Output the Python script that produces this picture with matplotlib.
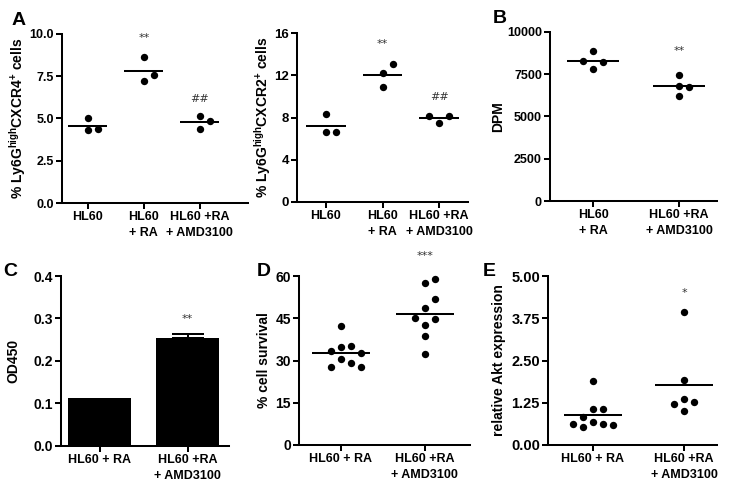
import numpy as np
import matplotlib
matplotlib.use('Agg')
import matplotlib.pyplot as plt

# ---------------- data ----------------
cats_a = ['HL60', 'HL60\n+ RA', 'HL60 +RA\n+ AMD3100']
cats_b = ['HL60\n+ RA', 'HL60 +RA\n+ AMD3100']
cats_cde = ['HL60 + RA', 'HL60 +RA\n+ AMD3100']

a1_hl60 = [5.01, 4.30, 4.40]
a1_ra = [7.20, 8.64, 7.57]
a1_amd = [5.13, 4.36, 4.85]
a1_ticks = [0.0, 2.5, 5.0, 7.5, 10.0]
a1_ticklabels = ['0.0', '2.5', '5.0', '7.5', '10.0']
a1_sig = ['', '**', '##']
a1_sig_y = [None, 9.78, 6.15]

a2_hl60 = [8.36, 6.66, 6.66]
a2_ra = [12.25, 10.86, 13.04]
a2_amd = [7.45, 8.14, 8.14]
a2_ticks = [0, 4, 8, 12, 16]
a2_sig = ['', '**', '##']
a2_sig_y = [None, 14.96, 9.94]

b_ra = [8876, 7828, 8207, 8284]
b_amd = [7456, 6231, 6805, 6728]
b_ticks = [0, 2500, 5000, 7500, 10000]
b_sig = ['', '**']
b_sig_y = [None, 8890]

c_means = [0.113, 0.253]
c_err = [0.0, 0.010]
c_ticks = [0.0, 0.1, 0.2, 0.3, 0.4]
c_sig = ['', '**']
c_sig_y = [None, 0.299]

d_ra = [42.4, 34.7, 35.3, 30.6, 33.4, 32.8, 29.2, 27.6, 27.6]
d_amd = [57.4, 58.8, 48.5, 51.7, 42.6, 44.7, 45.0, 38.7, 32.4]
d_ticks = [0, 15, 30, 45, 60]
d_sig = ['', '***']
d_sig_y = [None, 67.0]

e_ra = [1.88, 1.07, 1.07, 0.83, 0.69, 0.62, 0.52, 0.58, 0.62]
e_amd = [3.93, 1.92, 1.36, 1.26, 1.21, 1.01]
e_ticks = [0.0, 1.25, 2.50, 3.75, 5.00]
e_ticklabels = ['0.00', '1.25', '2.50', '3.75', '5.00']
e_sig = ['', '*']
e_sig_y = [None, 4.51]

# ---------------- style ----------------
FONT = 'Liberation Sans'
plt.rcParams['font.family'] = [FONT, 'DejaVu Sans']
plt.rcParams['font.weight'] = 'bold'
plt.rcParams['mathtext.default'] = 'regular'

W, H, DPI = 729, 484, 100
fig = plt.figure(figsize=(W / DPI, H / DPI), dpi=DPI)

LW = 1.45
FS_LAB = 10
FS_CAT = 9


def make_ax(x0, x1, ytop, ybot, xlim, ylim, ticks, ticklabels, cats, yfs):
    ax = fig.add_axes([x0 / W, 1 - ybot / H, (x1 - x0) / W, (ybot - ytop) / H])
    ax.set_xlim(*xlim)
    ax.set_ylim(*ylim)
    for s in ['top', 'right']:
        ax.spines[s].set_visible(False)
    for s in ['left', 'bottom']:
        ax.spines[s].set_linewidth(LW)
    ax.set_yticks(ticks)
    ax.set_yticklabels(ticklabels if ticklabels else [str(t) for t in ticks])
    ax.set_xticks(range(len(cats)))
    ax.set_xticklabels(cats, linespacing=1.45)
    ax.tick_params(axis='both', length=4.3, width=LW, pad=1.5)
    ax.tick_params(axis='x', labelsize=FS_CAT)
    ax.tick_params(axis='y', labelsize=yfs)
    for lab in ax.get_xticklabels() + ax.get_yticklabels():
        lab.set_fontweight('bold')
    return ax


def swarm_offsets(ax, values, spacing_px=10.0, thr_px=9.5):
    bbox = ax.get_window_extent()
    x0, x1 = ax.get_xlim()
    y0, y1 = ax.get_ylim()
    sx = bbox.width / (x1 - x0)
    sy = bbox.height / (y1 - y0)
    placed = []
    offs = []
    cands = [0, 1, -1, 2, -2, 3, -3]
    for v in values:
        ypx = v * sy
        for c in cands:
            ok = all(not (pc == c and abs(py - ypx) < thr_px) for (pc, py) in placed)
            if ok:
                placed.append((c, ypx))
                offs.append(c * spacing_px / sx)
                break
    return np.array(offs)


def dot_panel(ax, groups, line_w):
    for i, vals in enumerate(groups):
        vals = np.asarray(vals, dtype=float)
        offs = swarm_offsets(ax, vals)
        ax.plot(i + offs, vals, 'o', color='black', ms=5.3, mec='none', clip_on=False, zorder=3)
        m = vals.mean()
        ax.hlines(m, i - line_w / 2, i + line_w / 2, color='black', lw=LW, zorder=2)


def add_sig(ax, sig, sig_y):
    for i, (s, y) in enumerate(zip(sig, sig_y)):
        if s:
            ax.text(i, y, s, ha='center', va='center', fontsize=8, fontweight='normal',
                    color='#333333', family='DejaVu Sans', clip_on=False)


def ylab(ax, text, xc_px):
    ax.set_ylabel(text, fontsize=FS_LAB, fontweight='bold')
    bbox = ax.get_position()
    frac = (xc_px / W - bbox.x0) / bbox.width
    ax.yaxis.label.set_va('center')
    ax.yaxis.set_label_coords(frac, 0.5)


# ---------------- panel A left ----------------
ax1 = make_ax(62, 248, 34, 203, (-0.46, 2.86), (0, 10), a1_ticks, a1_ticklabels, cats_a, 9)
dot_panel(ax1, [a1_hl60, a1_ra, a1_amd], 0.70)
add_sig(ax1, a1_sig, a1_sig_y)
ylab(ax1, r'% Ly6G$^{high}$CXCR4$^{+}$ cells', 17.5)

# ---------------- panel A right ----------------
ax2 = make_ax(297, 468, 33, 202, (-0.51, 2.51), (0, 16), a2_ticks, None, cats_a, 9.5)
dot_panel(ax2, [a2_hl60, a2_ra, a2_amd], 0.70)
add_sig(ax2, a2_sig, a2_sig_y)
ylab(ax2, r'% Ly6G$^{high}$CXCR2$^{+}$ cells', 263)

# ---------------- panel B ----------------
ax3 = make_ax(550, 717, 32, 201, (-0.50, 1.44), (0, 10000), b_ticks, None, cats_b, 9)
dot_panel(ax3, [b_ra, b_amd], 0.60)
add_sig(ax3, b_sig, b_sig_y)
ylab(ax3, 'DPM', 498.5)

# ---------------- panel C ----------------
ax4 = make_ax(61, 229, 276, 445.5, (-0.44, 1.47), (0, 0.4), c_ticks, None, cats_cde, 10)
ax4.bar(range(len(c_means)), c_means, width=0.72, color='black', zorder=2)
ax4.errorbar([1], [c_means[1]], yerr=[[0], [c_err[1]]], fmt='none', ecolor='black',
             elinewidth=LW, capsize=11.5, capthick=LW, zorder=3)
add_sig(ax4, c_sig, c_sig_y)
ylab(ax4, 'OD450', 13.5)

# ---------------- panel D ----------------
ax5 = make_ax(299, 470, 276, 445, (-0.50, 1.54), (0, 60), d_ticks, None, cats_cde, 10)
dot_panel(ax5, [d_ra, d_amd], 0.69)
add_sig(ax5, d_sig, d_sig_y)
ylab(ax5, '% cell survival', 263.5)

# ---------------- panel E ----------------
ax6 = make_ax(548, 717, 276, 445, (-0.49, 1.36), (0, 5), e_ticks, e_ticklabels, cats_cde, 10.5)
dot_panel(ax6, [e_ra, e_amd], 0.64)
add_sig(ax6, e_sig, e_sig_y)
ylab(ax6, 'relative Akt expression', 499)

# ---------------- panel letters ----------------
for letter, xp, yp in [('A', 12, 25), ('B', 493, 23), ('C', 3, 276), ('D', 257, 276), ('E', 483, 276)]:
    fig.text(xp / W, 1 - yp / H, letter, fontsize=14, fontweight='bold',
             family='Liberation Sans', ha='left', va='baseline')

fig.savefig('out.png', dpi=DPI)
